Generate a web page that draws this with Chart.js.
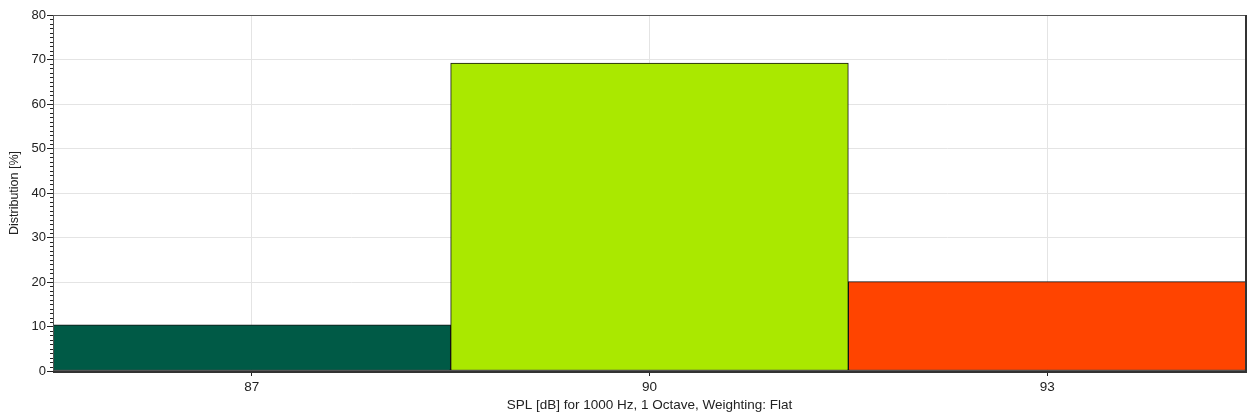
<!DOCTYPE html>
<html>
<head>
<meta charset="utf-8">
<script src="https://cdn.jsdelivr.net/npm/chart.js@4"></script>
<style>
  html, body { margin: 0; padding: 0; background: #fff; }
  #wrap { width: 1249px; height: 417px; }
</style>
</head>
<body>
<div id="wrap"><canvas id="grafico"></canvas></div>
<script>
// dati
var livelli = ['87', '90', '93'];
var distribuzione = [10.4, 69.2, 20.1];
var colori = ['rgb(0, 90, 70)', 'rgb(170, 232, 0)', 'rgb(255, 68, 0)'];
var tickY = [0, 10, 20, 30, 40, 50, 60, 70, 80];

Chart.defaults.font.family = '"Liberation Sans", Arial, sans-serif';
Chart.defaults.font.size = 13.5;
Chart.defaults.color = '#222';

// tacche minori sull'asse y + bordo dell'area grafico
var tacche = {
    id: 'tacche',
    afterDraw: function (chart) {
        var c = chart.ctx;
        var a = chart.chartArea;
        var y = chart.scales.y;
        c.save();
        c.strokeStyle = '#222';
        c.lineWidth = 1;
        for (var v = 0; v <= 80; v++) {
            if (v % 10 === 0) continue;
            var py = Math.round(y.getPixelForValue(v)) + 0.5;
            c.beginPath();
            c.moveTo(a.left - 3, py);
            c.lineTo(a.left, py);
            c.stroke();
        }
        c.strokeStyle = '#555';
        c.strokeRect(a.left + 0.5, a.top + 0.5, a.right - a.left - 1, a.bottom - a.top - 1);
        c.strokeStyle = '#333';
        c.lineWidth = 2;
        c.beginPath();
        c.moveTo(a.right, a.top);
        c.lineTo(a.right, a.bottom + 1);
        c.lineTo(a.left, a.bottom + 1);
        c.stroke();
        c.restore();
    }
};

var ctx = document.getElementById('grafico');
var grafico = new Chart(ctx, {
    type: 'bar',
    data: {
        labels: livelli,
        datasets: [{
            label: 'Distribution',
            data: distribuzione,
            backgroundColor: colori,
            borderColor: '#111',
            borderWidth: 1,
            borderSkipped: false,
            barPercentage: 1,
            categoryPercentage: 1
        }]
    },
    options: {
        responsive: true,
        maintainAspectRatio: false,
        animation: false,
        layout: { padding: { left: 0, right: 3, top: 15, bottom: 0 } },
        plugins: {
            legend: { display: false },
            tooltip: { enabled: false }
        },
        scales: {
            x: {
                grid: {
                    offset: false,
                    color: '#e4e4e4',
                    tickColor: '#222',
                    tickLength: 5
                },
                border: { display: false },
                ticks: { padding: 3, color: '#222' },
                title: {
                    display: true,
                    text: 'SPL [dB] for 1000 Hz, 1 Octave, Weighting: Flat',
                    color: '#222',
                    padding: { top: 0, bottom: 4 }
                },
                afterFit: function (s) { s.height = 46; }
            },
            y: {
                min: 0,
                max: 80,
                afterBuildTicks: function (s) {
                    s.ticks = tickY.map(function (v) { return { value: v }; });
                },
                grid: {
                    color: '#e4e4e4',
                    tickColor: '#222',
                    tickLength: 6
                },
                border: { display: false },
                ticks: { padding: 1, color: '#222', font: { size: 13 } },
                title: {
                    display: true,
                    text: 'Distribution [%]',
                    color: '#222',
                    font: { size: 12.5 },
                    padding: { top: 7, bottom: 0 }
                },
                afterFit: function (s) { s.width = 53; }
            }
        }
    },
    plugins: [tacche]
});
</script>
</body>
</html>
